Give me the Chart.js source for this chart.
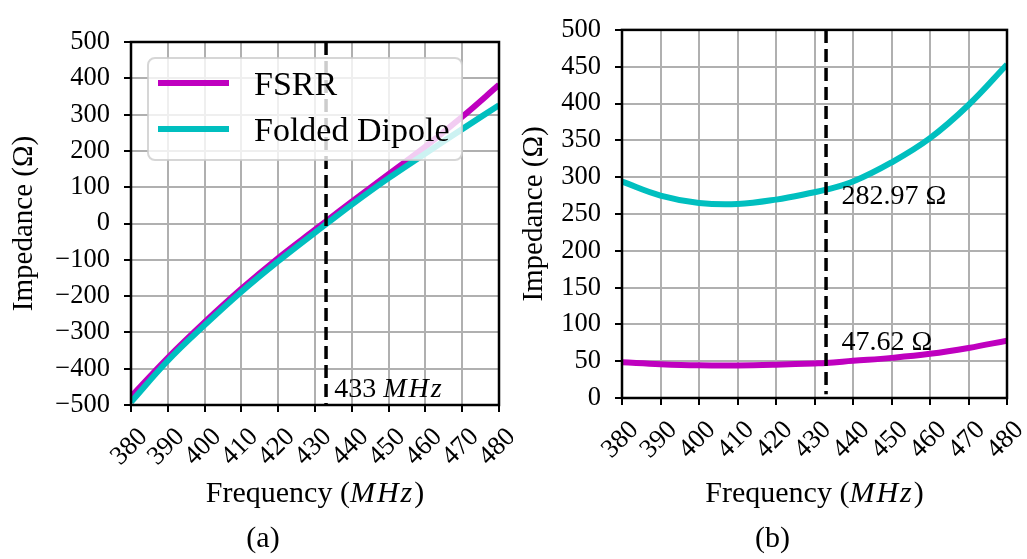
<!DOCTYPE html>
<html>
<head>
<meta charset="utf-8">
<script src="https://cdn.jsdelivr.net/npm/chart.js@4.4.0/dist/chart.umd.min.js"></script>
<style>
  html, body { margin: 0; padding: 0; background: #fff; }
  #wrap { position: relative; width: 1027px; height: 559px; }
  #chart-a { position: absolute; left: 0; top: 0; }
  #chart-b { position: absolute; left: 513px; top: 0; }
</style>
</head>
<body>
<div id="wrap">
  <canvas id="chart-a" width="513" height="559"></canvas>
  <canvas id="chart-b" width="514" height="559"></canvas>
</div>
<script>
// sweep points (MHz)
var freqs = [380, 390, 400, 410, 420, 430, 433, 440, 450, 460, 470, 480];
var freq_ticks = [380, 390, 400, 410, 420, 430, 440, 450, 460, 470, 480];
var marker_freq = 433;

// (a) reactance, Ohm
var fsrr_reactance   = [-477, -370, -272, -180, -95, -17, 6, 60, 136, 212, 294, 382];
var dipole_reactance = [-492, -378, -280, -188, -104, -25, -2, 52, 125, 193, 260, 326];

// (b) resistance, Ohm
var fsrr_resistance   = [48.5, 46, 44.5, 44.3, 45.3, 47, 47.62, 50.5, 54.5, 60, 68, 78];
var dipole_resistance = [294, 275, 265, 263.5, 269.5, 279.5, 282.97, 294, 320, 353, 398, 453];

var FONT = '"Liberation Serif", "Times New Roman", serif';
var MAGENTA = '#bf00bf';
var CYAN = '#00bfbf';

function xy(xs, ys) {
    return xs.map(function (x, i) { return {x: x, y: ys[i]}; });
}

function fontOf(size, italic) {
    return (italic ? 'italic ' : '') + size + 'px ' + FONT;
}

// text made of [string, italic] pieces, e.g. "Frequency (" + italic "MHz" + ")"
function mixedText(ctx, parts, x, y, size, align) {
    var widths = parts.map(function (p) {
        ctx.font = fontOf(size, p[1]);
        ctx.letterSpacing = p[1] ? '2px' : '0px';
        return ctx.measureText(p[0]).width;
    });
    var total = widths.reduce(function (a, b) { return a + b; }, 0);
    var cx = align === 'center' ? x - total / 2 : x;
    ctx.textAlign = 'left';
    ctx.textBaseline = 'alphabetic';
    parts.forEach(function (p, i) {
        ctx.font = fontOf(size, p[1]);
        ctx.letterSpacing = p[1] ? '2px' : '0px';
        ctx.fillText(p[0], cx, y);
        cx += widths[i];
    });
    ctx.letterSpacing = '0px';
}

function roundRect(ctx, x, y, w, h, r) {
    ctx.beginPath();
    ctx.moveTo(x + r, y);
    ctx.lineTo(x + w - r, y);
    ctx.arcTo(x + w, y, x + w, y + r, r);
    ctx.lineTo(x + w, y + h - r);
    ctx.arcTo(x + w, y + h, x + w - r, y + h, r);
    ctx.lineTo(x + r, y + h);
    ctx.arcTo(x, y + h, x, y + h - r, r);
    ctx.lineTo(x, y + r);
    ctx.arcTo(x, y, x + r, y, r);
    ctx.closePath();
}

function drawLegend(chart) {
    var ctx = chart.ctx, a = chart.chartArea;
    var bx = a.left + 17, by = a.top + 16;
    ctx.save();
    roundRect(ctx, bx, by, 314, 102, 7);
    ctx.fillStyle = 'rgba(255,255,255,0.8)';
    ctx.fill();
    ctx.strokeStyle = 'rgba(204,204,204,0.8)';
    ctx.lineWidth = 2;
    ctx.stroke();

    var rows = [['FSRR', MAGENTA, 25], ['Folded Dipole', CYAN, 71]];
    rows.forEach(function (r) {
        ctx.strokeStyle = r[1];
        ctx.lineWidth = 6;
        ctx.beginPath();
        ctx.moveTo(bx + 10, by + r[2]);
        ctx.lineTo(bx + 81, by + r[2]);
        ctx.stroke();
        ctx.fillStyle = '#000';
        ctx.font = fontOf(34, false);
        ctx.textAlign = 'left';
        ctx.textBaseline = 'alphabetic';
        ctx.fillText(r[0], bx + 106, by + r[2] + 12);
    });
    ctx.restore();
}

function panelPlugin(cfg) {
    return {
        id: 'panel_' + cfg.name,
        afterDatasetsDraw: function (chart) {
            var ctx = chart.ctx, xs = chart.scales.x, ys = chart.scales.y;
            ctx.save();
            ctx.fillStyle = '#000';
            cfg.notes.forEach(function (n) {
                mixedText(ctx, n.parts, xs.getPixelForValue(n.x), ys.getPixelForValue(n.y), 28, 'left');
            });
            ctx.restore();
            if (cfg.legend) drawLegend(chart);
        },
        afterDraw: function (chart) {
            var ctx = chart.ctx, a = chart.chartArea, xs = chart.scales.x;
            ctx.save();
            // axes frame
            ctx.strokeStyle = '#000';
            ctx.lineWidth = 2.5;
            ctx.strokeRect(a.left, a.top, a.right - a.left, a.bottom - a.top);

            // rotated frequency labels
            ctx.fillStyle = '#000';
            ctx.font = fontOf(26.5, false);
            ctx.textAlign = 'center';
            ctx.textBaseline = 'middle';
            freq_ticks.forEach(function (f) {
                ctx.save();
                ctx.translate(xs.getPixelForValue(f) - 1.5, a.bottom + 42);
                ctx.rotate(-Math.PI / 4);
                ctx.fillText(String(f), 0, 0);
                ctx.restore();
            });

            // axis titles
            var midX = (a.left + a.right) / 2, midY = (a.top + a.bottom) / 2;
            mixedText(ctx, [['Frequency (', false], ['MHz', true], [')', false]], midX, 502, 30, 'center');
            ctx.save();
            ctx.translate(cfg.yTitleX, midY);
            ctx.rotate(-Math.PI / 2);
            mixedText(ctx, [['Impedance (\u03a9)', false]], 0, 0, 29, 'center');
            ctx.restore();

            // sub-figure caption
            mixedText(ctx, [[cfg.caption, false]], cfg.captionX, 547, 30, 'center');
            ctx.restore();
        }
    };
}

function makePanel(id, cfg) {
    return new Chart(document.getElementById(id), {
        type: 'line',
        data: {
            datasets: [
                {
                    data: [{x: marker_freq, y: cfg.ymax}, {x: marker_freq, y: cfg.dashEnd}],
                    borderColor: '#000', borderWidth: 3.5, borderDash: [13, 6],
                    pointRadius: 0, order: 0
                },
                {
                    label: 'Folded Dipole',
                    data: xy(freqs, cfg.dipole),
                    borderColor: CYAN, borderWidth: 6,
                    pointRadius: 0, tension: 0.4, order: 1
                },
                {
                    label: 'FSRR',
                    data: xy(freqs, cfg.fsrr),
                    borderColor: MAGENTA, borderWidth: 6,
                    pointRadius: 0, tension: 0.4, order: 2
                }
            ]
        },
        options: {
            responsive: false,
            animation: false,
            devicePixelRatio: 1,
            layout: {padding: {left: 0, top: cfg.top, right: cfg.right, bottom: 0}},
            plugins: {legend: {display: false}, tooltip: {enabled: false}},
            scales: {
                x: {
                    type: 'linear', min: 380, max: 480,
                    afterFit: function (s) { s.height = 559 - cfg.bottom; },
                    ticks: {display: false, stepSize: 10},
                    grid: {color: '#b0b0b0', lineWidth: 2, tickColor: '#000', tickWidth: 2, tickLength: 7},
                    border: {display: false}
                },
                y: {
                    type: 'linear', min: cfg.ymin, max: cfg.ymax,
                    afterFit: function (s) { s.width = cfg.left; },
                    ticks: {
                        stepSize: cfg.step, padding: 14, color: '#000',
                        font: {family: FONT, size: 26.5},
                        callback: function (v) { return String(v).replace('-', '\u2212'); }
                    },
                    grid: {color: '#b0b0b0', lineWidth: 2, tickColor: '#000', tickWidth: 2, tickLength: 7},
                    border: {display: false}
                }
            }
        },
        plugins: [panelPlugin(cfg)]
    });
}

makePanel('chart-a', {
    name: 'a', left: 131, right: 14, top: 42, bottom: 405,
    ymin: -500, ymax: 500, step: 100, dashEnd: -500,
    fsrr: fsrr_reactance, dipole: dipole_reactance,
    legend: true, yTitleX: 32, caption: '(a)', captionX: 263,
    notes: [{x: 435.2, y: -478, parts: [[String(marker_freq) + ' ', false], ['MHz', true]]}]
});

makePanel('chart-b', {
    name: 'b', left: 109, right: 20, top: 19, bottom: 398,
    ymin: 0, ymax: 500, step: 50, dashEnd: 5,
    fsrr: fsrr_resistance, dipole: dipole_resistance,
    legend: false, yTitleX: 29, caption: '(b)', captionX: 259.5,
    notes: [
        {x: 437, y: 263, parts: [[dipole_resistance[freqs.indexOf(marker_freq)].toFixed(2) + ' \u03a9', false]]},
        {x: 437, y: 65, parts: [[fsrr_resistance[freqs.indexOf(marker_freq)].toFixed(2) + ' \u03a9', false]]}
    ]
});
</script>
</body>
</html>
